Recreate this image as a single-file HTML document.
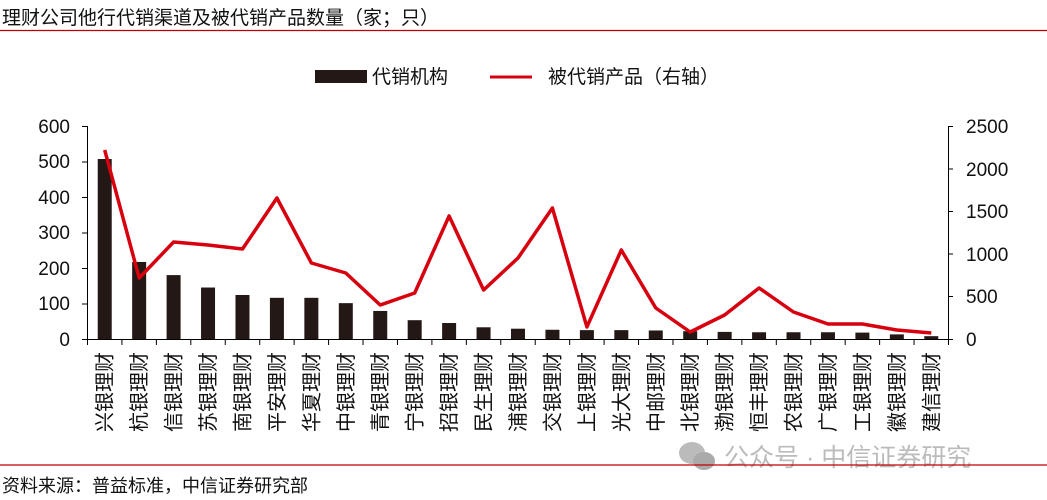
<!DOCTYPE html>
<html><head><meta charset="utf-8"><style>
html,body{margin:0;padding:0;background:#fff;width:1047px;height:500px;overflow:hidden}
text{font-family:"Liberation Sans","Noto Sans CJK SC",sans-serif}
</style></head><body>
<svg width="1047" height="500" viewBox="0 0 1047 500" xmlns="http://www.w3.org/2000/svg">
<text x="2" y="24" font-size="19" fill="#111">理财公司他行代销渠道及被代销产品数量（家；只）</text>
<line x1="0" y1="30.5" x2="1047" y2="30.5" stroke="#c00000" stroke-width="1.3"/>
<rect x="315" y="70" width="52" height="13" fill="#231815"/>
<text x="372" y="83" font-size="19" fill="#111">代销机构</text>
<line x1="490" y1="77" x2="532" y2="77" stroke="#d7000f" stroke-width="3"/>
<text x="548" y="83" font-size="19" fill="#111">被代销产品（右轴）</text>
<g font-size="19" fill="#111">
<text x="70" y="133" text-anchor="end">600</text>
<text x="70" y="168" text-anchor="end">500</text>
<text x="70" y="204" text-anchor="end">400</text>
<text x="70" y="239" text-anchor="end">300</text>
<text x="70" y="275" text-anchor="end">200</text>
<text x="70" y="310" text-anchor="end">100</text>
<text x="70" y="346" text-anchor="end">0</text>
<text x="966" y="133">2500</text>
<text x="966" y="176">2000</text>
<text x="966" y="218">1500</text>
<text x="966" y="261">1000</text>
<text x="966" y="303">500</text>
<text x="966" y="346">0</text>
</g>
<g stroke="#000" stroke-width="1">
<line x1="87.5" y1="126" x2="87.5" y2="339"/>
<line x1="82" y1="126.5" x2="87" y2="126.5"/><line x1="82" y1="162" x2="87" y2="162"/><line x1="82" y1="197.5" x2="87" y2="197.5"/><line x1="82" y1="233" x2="87" y2="233"/><line x1="82" y1="268.5" x2="87" y2="268.5"/><line x1="82" y1="304" x2="87" y2="304"/>
<line x1="948.5" y1="126" x2="948.5" y2="339"/>
<line x1="948" y1="126.5" x2="953" y2="126.5"/><line x1="948" y1="169" x2="953" y2="169"/><line x1="948" y1="211.5" x2="953" y2="211.5"/><line x1="948" y1="254" x2="953" y2="254"/><line x1="948" y1="296.5" x2="953" y2="296.5"/><line x1="948" y1="339.5" x2="953" y2="339.5"/>
</g>
<g fill="#231815" id="bars"></g>
<g stroke="#000" stroke-width="1" id="ticks"><line x1="82" y1="339.5" x2="953" y2="339.5"/></g>
<polyline id="ln" fill="none" stroke="#d7000f" stroke-width="3.5" stroke-linejoin="round"/>
<g id="labels" font-size="20" fill="#111"></g>
<g fill="#bbb">
<ellipse cx="692" cy="453" rx="13" ry="11"/><ellipse cx="704" cy="461" rx="11" ry="9" fill="#aaa"/>
<text x="724" y="466" font-size="25" fill="#bbb">公众号 · 中信证券研究</text>
</g>
<line x1="0" y1="465" x2="1047" y2="465" stroke="#c00000" stroke-width="1.3"/>
<text x="2" y="492" font-size="18" fill="#111">资料来源：普益标准，中信证券研究部</text>
</svg>
<script>
var names=["兴银理财","杭银理财","信银理财","苏银理财","南银理财","平安理财","华夏理财","中银理财","青银理财","宁银理财","招银理财","民生理财","浦银理财","交银理财","上银理财","光大理财","中邮理财","北银理财","渤银理财","恒丰理财","农银理财","广银理财","工银理财","徽银理财","建信理财"];
var bars=[507,217,180,145,124,116,116,101,79,53,45,33,29,26,25,25,24,22,20,19,19,19,18,13,8];
var ly=[150,278,242,245,249,198,263,273,305,293,216,290,258,208,327,250,308,332,315,288,312,324,324,330,333];
var N=25,W=861/N;
var ns="http://www.w3.org/2000/svg",b=document.getElementById("bars"),t=document.getElementById("ticks"),l=document.getElementById("labels"),pts=[];
for(var i=0;i<=N;i++){var x=87.5+W*i;var e=document.createElementNS(ns,"line");e.setAttribute("x1",x);e.setAttribute("x2",x);e.setAttribute("y1",339);e.setAttribute("y2",345);t.appendChild(e);}
for(var i=0;i<N;i++){var c=87.5+W*(i+0.5);var h=bars[i]*0.355;var r=document.createElementNS(ns,"rect");r.setAttribute("x",c-7);r.setAttribute("width",14);r.setAttribute("y",339-h);r.setAttribute("height",h);b.appendChild(r);
pts.push(c.toFixed(1)+","+ly[i]);
var tx=document.createElementNS(ns,"text");tx.setAttribute("transform","translate("+(c+7)+",352) rotate(-90)");tx.setAttribute("text-anchor","end");tx.textContent=names[i];l.appendChild(tx);}
document.getElementById("ln").setAttribute("points",pts.join(" "));
</script>
</body></html>
